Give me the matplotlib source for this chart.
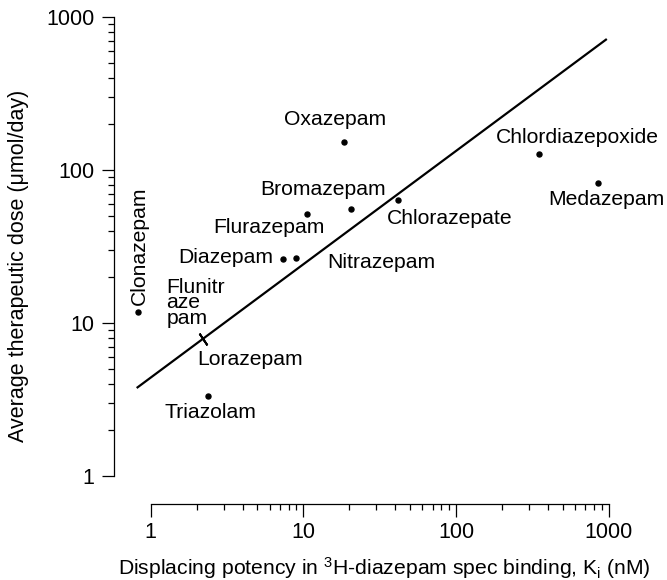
import matplotlib
matplotlib.use("Agg")
import matplotlib.pyplot as plt
from matplotlib.ticker import FixedLocator, NullFormatter

plt.rcParams['font.family'] = ['Liberation Sans', 'DejaVu Sans']
plt.rcParams['mathtext.fontset'] = 'custom'
plt.rcParams['mathtext.rm'] = 'Liberation Sans'
plt.rcParams['mathtext.it'] = 'Liberation Sans:italic'

# ---- data ----
drugs = ["Oxazepam", "Chlordiazepoxide", "Medazepam", "Chlorazepate", "Nitrazepam",
         "Bromazepam", "Flurazepam", "Diazepam", "Clonazepam", "Triazolam"]
ki_nM = [18.4, 347, 846, 41.4, 9.0, 20.4, 10.5, 7.3, 0.83, 2.36]
dose = [152, 127, 82, 63.7, 26.6, 55.6, 51.5, 26.2, 11.8, 3.33]

cross_drugs = ["Flunitrazepam", "Lorazepam"]
cross_ki = [2.19, 2.19]
cross_dose = [7.86, 7.86]

fit_x = [0.81, 968]
fit_y = [3.76, 718]

x_ticks = [1, 10, 100, 1000]
x_ticklabels = ["1", "10", "100", "1000"]
y_ticks = [1, 10, 100, 1000]
y_ticklabels = ["1", "10", "100", "1000"]

# label display names, offsets (points) and alignment
label_text = {"Flunitrazepam": "Flunitr\naze\npam"}
label_style = {
    "Oxazepam": ((-6, 16), "center", "center", 0),
    "Chlordiazepoxide": ((28, 12), "center", "center", 0),
    "Medazepam": ((6, -12), "center", "center", 0),
    "Chlorazepate": ((-8, -13), "left", "center", 0),
    "Nitrazepam": ((22, -3), "left", "center", 0),
    "Bromazepam": ((-20, 14), "center", "center", 0),
    "Flurazepam": ((-27, -10), "center", "center", 0),
    "Diazepam": ((-7, 1), "right", "center", 0),
    "Clonazepam": ((1, 5), "center", "bottom", 90),
    "Triazolam": ((-31, -12), "left", "center", 0),
    "Flunitrazepam": ((-26, 26), "left", "center", 0),
    "Lorazepam": ((-4, -15), "left", "center", 0),
}

fig = plt.figure(figsize=(6.67, 5.8), dpi=100)
ax = fig.add_axes([0.1709, 0.1310, 0.7421, 0.8397])
ax.set_xscale("log")
ax.set_yscale("log")
ax.set_xlim(10 ** -0.24, 1000)
ax.set_ylim(10 ** -0.183, 1000)

ax.plot(fit_x, fit_y, color="black", lw=1.6, solid_capstyle="butt", clip_on=False)
ax.plot(ki_nM, dose, "o", color="black", ms=3.6, clip_on=False)
ax.plot(cross_ki, cross_dose, linestyle="none", marker=(2, 2, 34), ms=10,
        mec="black", mew=1.3, clip_on=False)

fs = 15.2
for name, xv, yv in list(zip(drugs, ki_nM, dose)) + list(zip(cross_drugs, cross_ki, cross_dose)):
    (dx, dy), ha, va, rot = label_style[name]
    ax.annotate(label_text.get(name, name), (xv, yv), xytext=(dx, dy),
                textcoords="offset points", ha=ha, va=va, rotation=rot,
                fontsize=fs, linespacing=0.78, annotation_clip=False)

for s in ["top", "right"]:
    ax.spines[s].set_visible(False)
ax.spines["left"].set_bounds(1, 1000)
ax.spines["bottom"].set_bounds(1, 1000)
for s in ["left", "bottom"]:
    ax.spines[s].set_linewidth(0.9)

minor_vals = [m * 10 ** e for e in range(0, 3) for m in range(2, 10)]
ax.xaxis.set_major_locator(FixedLocator(x_ticks))
ax.set_xticklabels(x_ticklabels)
ax.yaxis.set_major_locator(FixedLocator(y_ticks))
ax.set_yticklabels(y_ticklabels)
ax.xaxis.set_minor_locator(FixedLocator(minor_vals))
ax.yaxis.set_minor_locator(FixedLocator(minor_vals))
ax.xaxis.set_minor_formatter(NullFormatter())
ax.yaxis.set_minor_formatter(NullFormatter())

ax.tick_params(axis="both", which="major", direction="out", length=9, width=0.9,
               labelsize=15.5, pad=4)
ax.tick_params(axis="both", which="minor", direction="out", length=4.5, width=0.9)
ax.tick_params(axis="y", which="major", pad=5)

ax.set_xlabel("Displacing potency in $\\mathrm{^{3}}$H-diazepam spec binding, K$\\mathrm{_{i}}$ (nM)",
              fontsize=15.2)
ax.set_ylabel("Average therapeutic dose (μmol/day)", fontsize=15.5)
ax.xaxis.set_label_coords(0.547, -0.105)
ax.yaxis.set_label_coords(-0.172, 0.49)

fig.savefig("out.png", dpi=100)
